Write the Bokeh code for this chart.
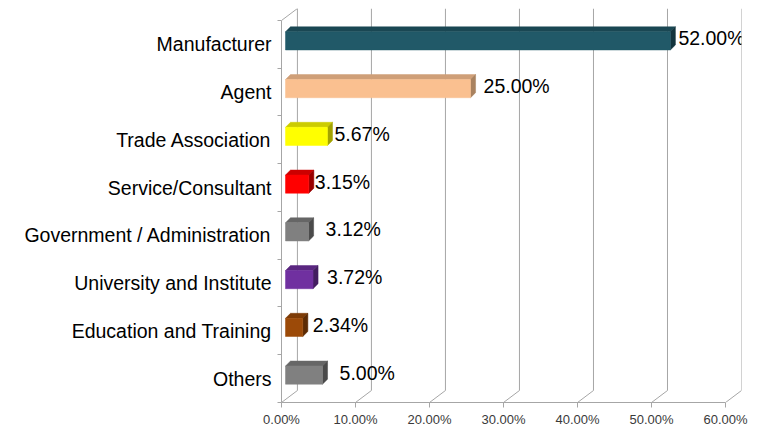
from bokeh.plotting import figure
from bokeh.models import ColumnDataSource, Range1d, FixedTicker
from bokeh.embed import file_html
from bokeh.resources import INLINE
from bokeh.core.properties import value

# ---- data ----
categories = ["Manufacturer", "Agent", "Trade Association", "Service/Consultant",
              "Government / Administration", "University and Institute",
              "Education and Training", "Others"]
shares = [52.00, 25.00, 5.67, 3.15, 3.12, 3.72, 2.34, 5.00]
value_labels = ["52.00%", "25.00%", "5.67%", "3.15%", "3.12%", "3.72%", "2.34%", "5.00%"]
x_ticks = [0, 10, 20, 30, 40, 50, 60]
x_tick_labels = ["0.00%", "10.00%", "20.00%", "30.00%", "40.00%", "50.00%", "60.00%"]

# ---- styles ----
front_colors = ["#215968", "#fac090", "#ffff00", "#ff0000", "#808080", "#7030a0", "#9c4a08", "#808080"]
top_colors = ["#1a4753", "#cf9f78", "#cccc00", "#cc0000", "#666666", "#5a2680", "#7d3b06", "#666666"]
side_colors = ["#12343d", "#a9825f", "#a3a300", "#990000", "#4a4a4a", "#431d60", "#5c2b04", "#4a4a4a"]
label_gap_px = [3, 8, 2, 1, 12, 9, 5, 12]

n = len(categories)
XMAX = 60.0
WALL_DX = 2.15   # depth of the 3D box in x units (%)
WALL_DY = 0.2513 # depth of the 3D box in y units
BAR_X0 = 0.54
BAR_YSHIFT = 0.073
BAR_H = 0.38
BAR_DX = 0.68
BAR_DY = 0.105

centers = [n - 0.5 - i for i in range(n)]

p = figure(width=759, height=429, output_backend="svg", toolbar_location=None,
           x_range=Range1d(0, XMAX + WALL_DX), y_range=Range1d(0, n + WALL_DY),
           min_border_left=281, min_border_right=18, min_border_top=8, min_border_bottom=27)
p.outline_line_color = None
p.xgrid.visible = False
p.ygrid.visible = False
p.background_fill_color = "white"
p.border_fill_color = "white"

grid_color = "#a6a6a6"

# back wall vertical gridlines
p.segment(x0=[t + WALL_DX for t in x_ticks], y0=[WALL_DY] * len(x_ticks),
          x1=[t + WALL_DX for t in x_ticks], y1=[n + WALL_DY] * len(x_ticks),
          line_color=grid_color, line_width=1)
# floor diagonals
p.segment(x0=x_ticks, y0=[0] * len(x_ticks),
          x1=[t + WALL_DX for t in x_ticks], y1=[WALL_DY] * len(x_ticks),
          line_color=grid_color, line_width=1)
# top-left diagonal of the side wall
p.segment(x0=[0], y0=[n], x1=[WALL_DX], y1=[n + WALL_DY], line_color=grid_color, line_width=1)

# bars
fx, fy, tx, ty, sx, sy = [], [], [], [], [], []
lx, ly = [], []
for c, v in zip(centers, shares):
    x0 = BAR_X0
    x1 = BAR_X0 + v
    yb = c + BAR_YSHIFT - BAR_H / 2
    yt = c + BAR_YSHIFT + BAR_H / 2
    fx.append([x0, x1, x1, x0]); fy.append([yb, yb, yt, yt])
    tx.append([x0, x1, x1 + BAR_DX, x0 + BAR_DX]); ty.append([yt, yt, yt + BAR_DY, yt + BAR_DY])
    sx.append([x1, x1 + BAR_DX, x1 + BAR_DX, x1]); sy.append([yb, yb + BAR_DY, yt + BAR_DY, yt])
    lx.append(x1 + BAR_DX); ly.append(c + BAR_YSHIFT + BAR_DY / 2)

src = ColumnDataSource(dict(fx=fx, fy=fy, tx=tx, ty=ty, sx=sx, sy=sy,
                            fc=front_colors, tc=top_colors, sc=side_colors,
                            lx=lx, ly=ly, lab=value_labels, gap=label_gap_px))
p.patches("tx", "ty", source=src, fill_color="tc", line_color="tc", line_width=0.5)
p.patches("sx", "sy", source=src, fill_color="sc", line_color="sc", line_width=0.5)
p.patches("fx", "fy", source=src, fill_color="fc", line_color="fc", line_width=0.5)

p.text(x="lx", y="ly", text="lab", source=src, x_offset="gap",
       text_align="left", text_baseline="middle",
       text_font=value("Liberation Sans"), text_font_size="19.5px", text_color="#000000")

# x axis
xa = p.xaxis[0]
xa.ticker = FixedTicker(ticks=x_ticks)
xa.major_label_overrides = {t: l for t, l in zip(x_ticks, x_tick_labels)}
xa.bounds = (0, XMAX)
xa.axis_line_color = grid_color
xa.major_tick_line_color = grid_color
xa.major_tick_out = 5
xa.major_tick_in = 0
xa.minor_tick_line_color = None
xa.major_label_standoff = 4
xa.major_label_text_font = "Liberation Sans"
xa.major_label_text_font_size = "13px"
xa.major_label_text_color = "#3a3a3a"

# y axis
ya = p.yaxis[0]
ya.ticker = FixedTicker(ticks=centers, minor_ticks=list(range(n + 1)))
ya.major_label_overrides = {c: name for c, name in zip(centers, categories)}
ya.bounds = (0, n)
ya.axis_line_color = grid_color
ya.major_tick_line_color = None
ya.major_tick_out = 4
ya.major_tick_in = 0
ya.minor_tick_line_color = grid_color
ya.minor_tick_out = 4
ya.minor_tick_in = 0
ya.major_label_standoff = 6
ya.major_label_text_font = "Liberation Sans"
ya.major_label_text_font_size = "19.5px"
ya.major_label_text_color = "#000000"

open("out.html", "w").write(file_html(p, INLINE))
